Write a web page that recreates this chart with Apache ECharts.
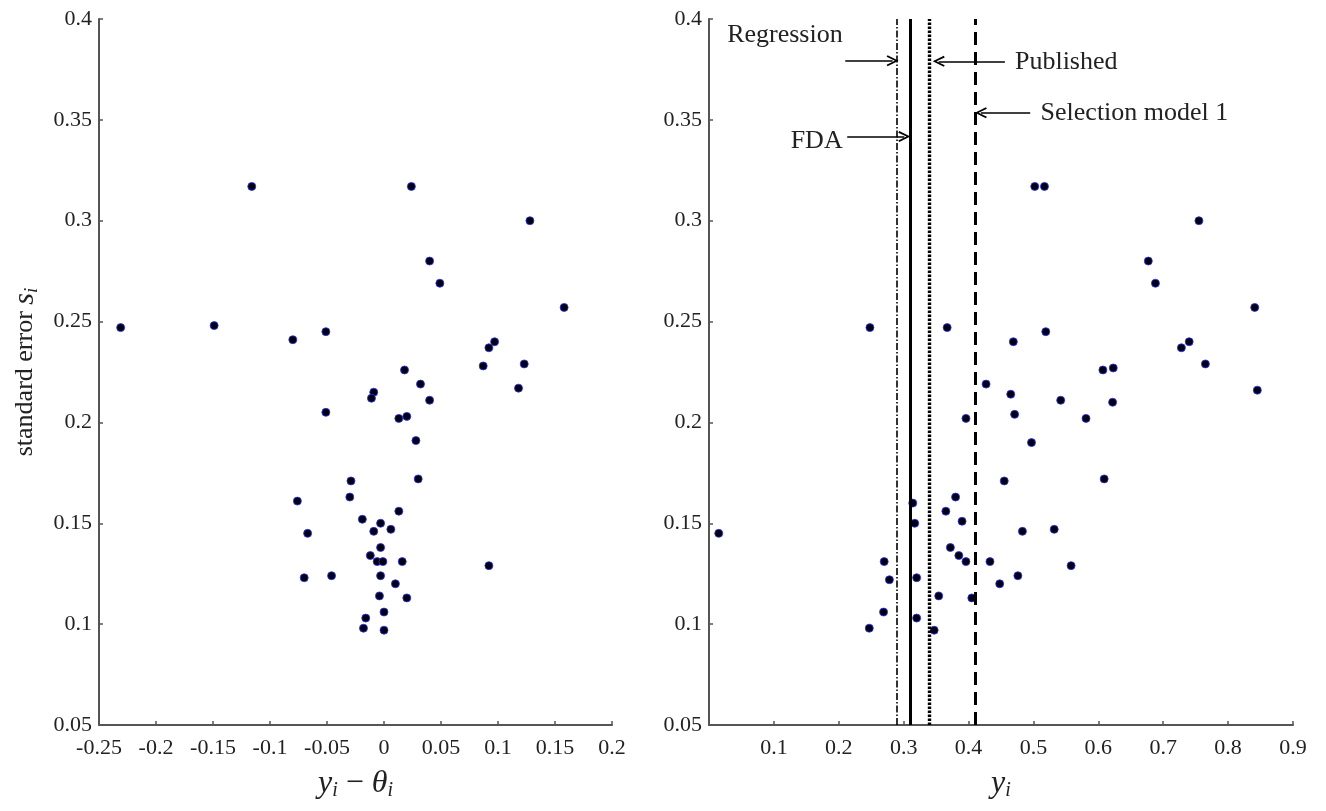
<!DOCTYPE html>
<html>
<head>
<meta charset="utf-8">
<script src="https://cdn.jsdelivr.net/npm/echarts@6/dist/echarts.min.js"></script>
<style>html,body{margin:0;padding:0;background:#fff}#c{width:1326px;height:811px}</style>
</head>
<body>
<div id="c"></div>
<script>
// Left panel: y_i - theta_i vs standard error
const leftX = [-0.231,-0.149,-0.116,-0.080,-0.051,-0.051,-0.076,-0.067,-0.070,-0.046,
  0.024,0.040,0.049,0.128,0.158,0.097,0.092,0.087,0.123,0.118,
  0.018,0.032,-0.009,-0.011,0.040,0.013,0.020,0.028,0.030,-0.029,
  -0.030,0.013,-0.019,-0.003,-0.009,0.006,-0.003,-0.012,-0.006,-0.001,
  0.016,0.092,-0.003,0.010,-0.004,0.020,0.000,-0.016,-0.018,0.000];
const leftY = [0.247,0.248,0.317,0.241,0.245,0.205,0.161,0.145,0.123,0.124,
  0.317,0.280,0.269,0.300,0.257,0.240,0.237,0.228,0.229,0.217,
  0.226,0.219,0.215,0.212,0.211,0.202,0.203,0.191,0.172,0.171,
  0.163,0.156,0.152,0.150,0.146,0.147,0.138,0.134,0.131,0.131,
  0.131,0.129,0.124,0.120,0.114,0.113,0.106,0.103,0.098,0.097];
// Right panel: y_i vs standard error
const rightX = [0.015,0.248,0.247,0.269,0.270,0.278,0.314,0.317,0.320,0.320,
  0.347,0.354,0.365,0.367,0.372,0.380,0.385,0.390,0.396,0.396,
  0.405,0.427,0.433,0.448,0.455,0.465,0.469,0.471,0.476,0.483,
  0.497,0.502,0.517,0.519,0.532,0.542,0.558,0.581,0.607,0.609,
  0.622,0.623,0.677,0.688,0.728,0.740,0.755,0.765,0.841,0.845];
const rightY = [0.145,0.247,0.098,0.106,0.131,0.122,0.160,0.150,0.123,0.103,
  0.097,0.114,0.156,0.247,0.138,0.163,0.134,0.151,0.131,0.202,
  0.113,0.219,0.131,0.120,0.171,0.214,0.240,0.204,0.124,0.146,
  0.190,0.317,0.317,0.245,0.147,0.211,0.129,0.202,0.226,0.172,
  0.210,0.227,0.280,0.269,0.237,0.240,0.300,0.229,0.257,0.216];
// Reference lines (estimates)
const refNames = ['Regression','FDA','Published','Selection model 1'];
const refValues = [0.292, 0.309, 0.344, 0.411];
// Annotation arrows: [tailX, tipX, y]
const arrowTail = [0.210, 0.213, 0.456, 0.495];
const arrowTip  = [0.283, 0.301, 0.354, 0.419];
const arrowY    = [0.3793, 0.3417, 0.3790, 0.3535];
// Annotation text anchors
const labelX = [0.028, 0.206, 0.4715, 0.511];
const labelY = [0.392, 0.3395, 0.3787, 0.3534];
const labelAlign = ['left','right','left','left'];

const yTicksMin = 0.05, yTicksMax = 0.4, yTickStep = 0.05;

const serif = "'Liberation Serif','Times New Roman',serif";
const axisCol = '#555';
const textCol = '#222';

const leftData = leftX.map((x,i)=>[x,leftY[i]]);
const rightData = rightX.map((x,i)=>[x,rightY[i]]);

const refStyles = [
  {type:[7,2,1.5,2], width:1.6},
  {type:'solid', width:3},
  {type:[2.5,1.5], width:3.4},
  {type:[13,7], width:3}
];

const chevron = 'path://M0,10 L5,0 L10,10 L8.6,10.8 L5,3.4 L1.4,10.8 Z';

const dotStyle = {color:'#000014', borderColor:'rgba(50,50,235,0.8)', borderWidth:1, opacity:1};

function yAxis(gridIndex, withName){
  return {
    type:'value', gridIndex, min:yTicksMin, max:yTicksMax, interval:yTickStep,
    splitLine:{show:false},
    axisLine:{show:true, onZero:false, lineStyle:{color:axisCol, width:2}},
    axisTick:{show:true, inside:true, length:4, lineStyle:{color:axisCol, width:1.5}},
    axisLabel:{fontFamily:serif, fontSize:22, color:textCol, margin:7},
    name: withName ? '{t|standard error }{v|s}{s|i}' : '',
    nameLocation:'middle', nameGap:58,
    nameTextStyle:{ rich:{
      t:{fontFamily:serif, fontSize:26, color:textCol},
      v:{fontFamily:serif, fontStyle:'italic', fontSize:30, color:textCol},
      s:{fontFamily:serif, fontStyle:'italic', fontSize:19, color:textCol, padding:[12,0,0,0]}
    }}
  };
}

const option = {
  animation:false,
  backgroundColor:'#fff',
  grid:[
    {left:99, top:19, width:513, height:706},
    {left:709, top:19, width:584, height:706}
  ],
  xAxis:[
    {type:'value', gridIndex:0, min:-0.25, max:0.2, interval:0.05,
     splitLine:{show:false},
     axisLine:{show:true, onZero:false, lineStyle:{color:axisCol, width:2}},
     axisTick:{show:true, inside:true, length:4, lineStyle:{color:axisCol, width:1.5}},
     axisLabel:{fontFamily:serif, fontSize:22, color:textCol, margin:12},
     name:'{v|y}{s|i}{o| − }{v|θ}{s|i}', nameLocation:'middle', nameGap:42,
     nameTextStyle:{rich:{
       v:{fontFamily:serif, fontStyle:'italic', fontSize:32, color:textCol},
       o:{fontFamily:serif, fontSize:32, color:textCol},
       s:{fontFamily:serif, fontStyle:'italic', fontSize:20, color:textCol, padding:[14,0,0,0]}
     }}
    },
    {type:'value', gridIndex:1, min:0, max:0.9, interval:0.1,
     splitLine:{show:false},
     axisLine:{show:true, onZero:false, lineStyle:{color:axisCol, width:2}},
     axisTick:{show:true, inside:true, length:4, lineStyle:{color:axisCol, width:1.5}},
     axisLabel:{fontFamily:serif, fontSize:22, color:textCol, margin:12,
       formatter:v=> (Math.abs(v) < 1e-9 ? '' : String(+v.toFixed(2)))},
     name:'{v|y}{s|i}', nameLocation:'middle', nameGap:42,
     nameTextStyle:{rich:{
       v:{fontFamily:serif, fontStyle:'italic', fontSize:32, color:textCol},
       s:{fontFamily:serif, fontStyle:'italic', fontSize:20, color:textCol, padding:[14,0,0,0]}
     }}
    }
  ],
  yAxis:[ yAxis(0,true), yAxis(1,false) ],
  series:[
    {type:'scatter', xAxisIndex:0, yAxisIndex:0, data:leftData, symbolSize:8, itemStyle:dotStyle, silent:true},
    {type:'scatter', xAxisIndex:1, yAxisIndex:1, data:rightData, symbolSize:8, itemStyle:dotStyle, silent:true, z:3,
     markLine:{silent:true, symbol:['none','none'], label:{show:false}, animation:false,
       data: refValues.map((v,i)=>({name:refNames[i], xAxis:v, lineStyle:Object.assign({color:'#000'}, refStyles[i])}))
     }
    },
    {type:'line', xAxisIndex:1, yAxisIndex:1, data:[], silent:true, z:4,
     markLine:{silent:true, symbol:['none', chevron], symbolSize:[11,12], label:{show:false}, animation:false,
       lineStyle:{color:'#000', width:1.6, type:'solid'},
       data: arrowTail.map((t,i)=>[{coord:[t, arrowY[i]]},{coord:[arrowTip[i], arrowY[i]]}])
     },
     markPoint:{silent:true, symbol:'circle', symbolSize:0, animation:false,
       label:{show:true, position:'inside', fontFamily:serif, fontSize:26, color:textCol},
       data: refNames.map((n,i)=>({coord:[labelX[i], labelY[i]], value:n,
         label:{formatter:n, align:labelAlign[i], verticalAlign:'middle'}}))
     }
    }
  ]
};

const chart = echarts.init(document.getElementById('c'), null, {renderer:'canvas'});
chart.setOption(option);
</script>
</body>
</html>
